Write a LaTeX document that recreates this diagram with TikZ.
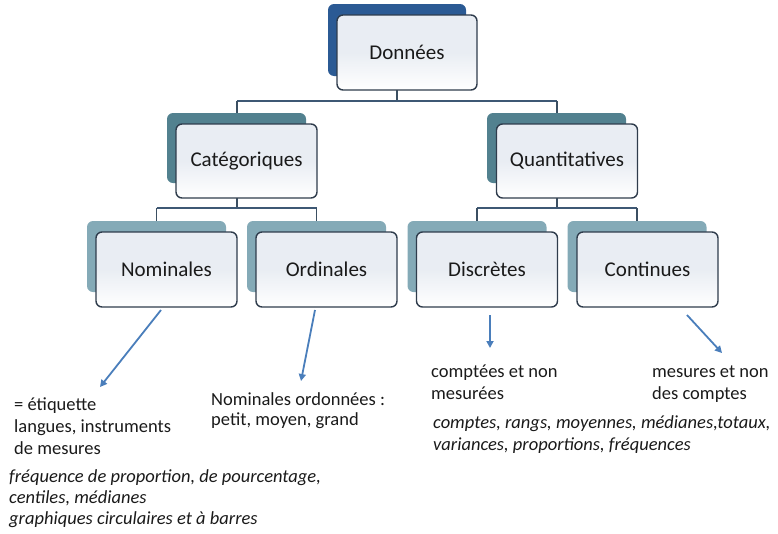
\documentclass[tikz,border=0pt]{standalone}
\usepackage{fontspec}
\setmainfont{Carlito}
\usetikzlibrary{arrows.meta}
\definecolor{backA}{HTML}{2B5A94}
\definecolor{backB}{HTML}{52818F}
\definecolor{backC}{HTML}{84AAB7}
\definecolor{frontfill}{HTML}{E9EDF3}
\definecolor{frontline}{HTML}{2F3C4C}
\definecolor{linkc}{HTML}{3B4F62}
\definecolor{arrowc}{HTML}{4A7EBB}
\definecolor{txt}{HTML}{1A1A1A}
\tikzset{
  backbox/.style={rounded corners=6pt, minimum width=139pt, minimum height=71pt, inner sep=0pt},
  frontbox/.style={rounded corners=6pt, draw=frontline, line width=1.4pt, minimum width=141pt, minimum height=75pt, inner sep=0pt,
     top color=frontfill, bottom color=white, middle color=frontfill, shading angle=0, font=\fontsize{21}{25}\selectfont, text=txt},
  link/.style={draw=linkc, line width=1.3pt},
  toplink/.style={draw=linkc!80!arrowc, line width=2.2pt},
  bluearrow/.style={draw=arrowc, line width=1.8pt, -{Triangle[length=7pt,width=7pt]}},
  plain/.style={anchor=base west, inner sep=0pt, font=\fontsize{18.5}{22}\selectfont, text=txt},
  ital/.style={anchor=base west, inner sep=0pt, font=\fontsize{18.5}{22}\selectfont\itshape, text=txt},
}
\begin{document}
\begin{tikzpicture}[x=1pt,y=-1pt]
\useasboundingbox (0,0) rectangle (778,533);
% junction coordinates
\coordinate (j0) at (397,101);
\coordinate (j1) at (237,208);
\coordinate (j2) at (557,208);
% connectors (drawn first)
\draw[link] (397,90) -- (j0);
\draw[toplink] (237,101) -- (557,101);
\draw[link] (237,101) -- (237,115);
\draw[link] (557,101) -- (557,115);
\draw[link] (237,198) -- (j1);
\draw[link] (557,198) -- (j2);
\draw[toplink] (156.5,208) -- (316.5,208);
\draw[toplink] (477,208) -- (637,208);
\draw[link] (156.5,208) -- (156.5,223);
\draw[link] (316.5,208) -- (316.5,223);
\draw[link] (477,208) -- (477,223);
\draw[link] (637,208) -- (637,223);
% back boxes
\node[backbox, fill=backA, minimum width=138pt, minimum height=72pt] (donb) at (397,40) {};
\node[backbox, fill=backB, minimum height=70pt] (catb) at (236.5,148) {};
\node[backbox, fill=backB, minimum height=70pt] (quab) at (556.5,148) {};
\node[backbox, fill=backC] (nomb) at (156.5,256.5) {};
\node[backbox, fill=backC] (ordb) at (316.5,256.5) {};
\node[backbox, fill=backC] (disb) at (477,256.5) {};
\node[backbox, fill=backC] (conb) at (637,256.5) {};
% front boxes
\node[frontbox, minimum width=140pt] (don) at (407,52.5) {Données};
\node[frontbox, minimum height=74pt] (cat) at (246.5,161) {Catégoriques};
\node[frontbox, minimum height=74pt] (qua) at (567,161) {Quantitatives};
\node[frontbox] (nom) at (166.5,269.5) {Nominales};
\node[frontbox] (ord) at (326.5,269.5) {Ordinales};
\node[frontbox] (dis) at (487,269.5) {Discrètes};
\node[frontbox] (con) at (647.5,269.5) {Continues};
% arrow end points
\coordinate (a1) at (100,387);
\coordinate (a2) at (301,381);
\coordinate (a3) at (490,348);
\coordinate (a4) at (722,353);
\draw[bluearrow] (161,310) -- (a1);
\draw[bluearrow] (315,310) -- (a2);
\draw[bluearrow] (490,315) -- (a3);
\draw[bluearrow] (687,315) -- (a4);
% texts
\node[plain] (t1) at (14,410) {= étiquette};
\node[plain] (t2) at (14,432) {langues, instruments};
\node[plain] (t3) at (14,454) {de mesures};
\node[ital] (t4a) at (9,482) {fréquence de proportion, de pourcentage,};
\node[ital] (t4b) at (9,503) {centiles, médianes};
\node[ital] (t4c) at (9,524) {graphiques circulaires et à barres};
\node[plain] (t5a) at (211,405) {Nominales ordonnées :};
\node[plain] (t5b) at (211,425) {petit, moyen, grand};
\node[plain] (t6a) at (431,377) {comptées et non};
\node[plain] (t6b) at (431,399) {mesurées};
\node[plain] (t7a) at (652,377) {mesures et non};
\node[plain] (t7b) at (652,399) {des comptes};
\node[ital] (t8a) at (433,428) {comptes, rangs, moyennes, médianes,totaux,};
\node[ital] (t8b) at (433,450) {variances, proportions, fréquences};
\end{tikzpicture}
\end{document}
